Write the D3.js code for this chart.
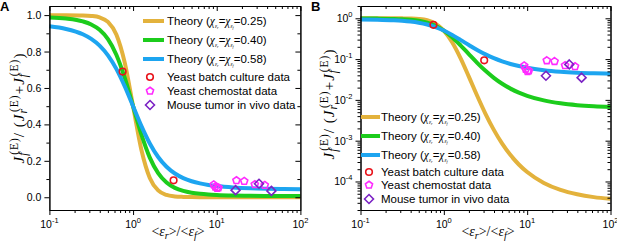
<!DOCTYPE html>
<html>
<head>
<meta charset="utf-8">
<script src="https://cdn.jsdelivr.net/npm/d3@7"></script>
<style>
  body { margin: 0; background: #fff; }
  text { font-family: "Liberation Sans", Arial, sans-serif; fill: #000; }
  .serif { font-family: "Liberation Serif", "Times New Roman", serif; }
  .axis path, .axis line { stroke: #000; stroke-width: 1; }
</style>
</head>
<body>
<div id="wrapper"></div>
<script>
// ratio <eps_r>/<eps_f> where the theory curves were read
const ratio = [0.1, 0.158, 0.251, 0.316, 0.398, 0.501, 0.631, 0.794, 1, 1.259, 1.585, 1.995,
  2.512, 3.162, 3.981, 5.012, 6.31, 7.943, 10, 15.85, 25.12, 39.81, 63.1, 100]
const theory025 = [0.99983, 0.99956, 0.99816, 0.99545, 0.98735, 0.96276, 0.89404, 0.74031, 0.5,
  0.25975, 0.10594, 0.03723, 0.01265, 0.00456, 0.00184, 0.000845, 0.000443, 0.000261, 0.00017,
  0.000092, 0.0000621, 0.0000485, 0.0000414, 0.0000375]
const theory040 = [0.98741, 0.98114, 0.96528, 0.94845, 0.91894, 0.86753, 0.78236, 0.65641, 0.5,
  0.34359, 0.21764, 0.13245, 0.08106, 0.05156, 0.03471, 0.02485, 0.01886, 0.01507, 0.01259,
  0.0097, 0.00823, 0.00742, 0.00695, 0.00666]
const theory058 = [0.9387, 0.92407, 0.89473, 0.86953, 0.83252, 0.77899, 0.70474, 0.60938, 0.5,
  0.39062, 0.29526, 0.22101, 0.16748, 0.13047, 0.10525, 0.08795, 0.07593, 0.06742, 0.0613,
  0.05347, 0.04905, 0.04645, 0.04489, 0.04393]

// measured points
const batchX = [0.75, 3.05]
const batchY = [0.69, 0.093]
const chemoX = [9.2, 9.6, 10.1, 10.5, 17.2, 21.3, 28.5, 37.5]
const chemoY = [0.069, 0.057, 0.05, 0.052, 0.092, 0.088, 0.07, 0.066]
const tumorX = [16.8, 32, 45]
const tumorY = [0.039, 0.074, 0.035]

const chiLabels = ['0.25', '0.40', '0.58']
const curveColors = ['#e3b23c', '#1ccc1c', '#1da5f0']

const width = 617
const height = 241

const svg = d3.select('#wrapper').append('svg')
  .attr('width', width)
  .attr('height', height)

const theorySeries = [theory025, theory040, theory058].map(vals =>
  ratio.map((r, i) => ({ x: r, y: vals[i] })))

const zip = (xs, ys) => xs.map((x, i) => ({ x, y: ys[i] }))
const batch = zip(batchX, batchY)
const chemo = zip(chemoX, chemoY)
const tumor = zip(tumorX, tumorY)

const pentagon = d3.symbol().type({
  draw(ctx, size) {
    const r = Math.sqrt(size / 2.4)
    for (let i = 0; i < 5; i++) {
      const a = -Math.PI / 2 + i * 2 * Math.PI / 5
      const px = r * Math.cos(a), py = r * Math.sin(a)
      i ? ctx.lineTo(px, py) : ctx.moveTo(px, py)
    }
    ctx.closePath()
  }
}).size(34)

const diamond = d3.symbol().type({
  draw(ctx, size) {
    const r = Math.sqrt(size / 2)
    ctx.moveTo(0, -r); ctx.lineTo(r, 0); ctx.lineTo(0, r); ctx.lineTo(-r, 0); ctx.closePath()
  }
}).size(40)

function pow10Label(sel, exp) {
  sel.text('10')
  sel.append('tspan').attr('dy', -5).attr('font-size', 7.5).text(exp)
}

function drawChiLabel(t, chi) {
  const it = () => t.append('tspan').attr('class', 'serif').attr('font-style', 'italic')
  t.append('tspan').text('Theory (')
  it().text('χ')
  it().attr('font-size', 5.5).attr('dy', 2.5).text('ε')
  it().attr('font-size', 4).attr('dy', 1).text('r')
  t.append('tspan').attr('dy', -3.5).text('=')
  it().text('χ')
  it().attr('font-size', 5.5).attr('dy', 2.5).text('ε')
  it().attr('font-size', 4).attr('dy', 1).text('f')
  t.append('tspan').attr('dy', -3.5).text('=' + chi + ')')
}

// J with stacked subscript and (E) superscript; following text must carry dy 6
function jTerm(t, sub) {
  t.append('tspan').attr('font-style', 'italic').text('J')
  t.append('tspan').attr('font-style', 'italic').attr('font-size', 11.5).attr('dy', 3).text(sub)
  t.append('tspan').attr('font-size', 11.5).attr('dx', sub === 'f' ? -3.3 : -3.9).attr('dy', -9).text('(E)')
}

function drawPanel(p) {
  const x = d3.scaleLog().domain([0.1, 100]).range([p.left, p.right])
  const y = p.log
    ? d3.scaleLog().domain([2e-5, 2]).range([p.bottom, p.top])
    : d3.scaleLinear().domain([-0.07, 1.05]).range([p.bottom, p.top])

  const g = svg.append('g')

  // curves
  const line = d3.line()
    .x(d => x(d.x))
    .y(d => y(d.y))
    .curve(d3.curveMonotoneX)

  theorySeries.forEach((s, i) => {
    g.append('path')
      .datum(s)
      .attr('fill', 'none')
      .attr('stroke', curveColors[i])
      .attr('stroke-width', 4)
      .attr('d', line)
  })

  // axes
  const xMajor = [0.1, 1, 10, 100]
  const xMinor = []
  for (let dec = 0.1; dec < 100; dec *= 10)
    for (let k = 2; k < 10; k++) xMinor.push(dec * k)

  let yMajor, yMinor
  if (p.log) {
    yMajor = [1e-4, 1e-3, 1e-2, 1e-1, 1]
    yMinor = []
    for (let dec = 1e-5; dec < 2; dec *= 10)
      for (let k = 2; k < 10; k++) if (dec * k >= 2e-5 && dec * k <= 2) yMinor.push(dec * k)
  } else {
    yMajor = [0, 0.2, 0.4, 0.6, 0.8, 1.0]
    yMinor = [0.1, 0.3, 0.5, 0.7, 0.9]
  }

  const axisG = (tr, gen) => g.append('g').attr('class', 'axis').attr('transform', tr).call(gen)

  axisG(`translate(0,${p.bottom})`, d3.axisBottom(x).tickValues(xMajor).tickSize(5).tickSizeOuter(0).tickFormat(''))
  axisG(`translate(0,${p.bottom})`, d3.axisBottom(x).tickValues(xMinor).tickSize(3).tickSizeOuter(0).tickFormat(''))
  axisG(`translate(0,${p.top})`, d3.axisBottom(x).tickValues(xMajor).tickSize(5).tickSizeOuter(0).tickFormat(''))
  axisG(`translate(0,${p.top})`, d3.axisBottom(x).tickValues(xMinor).tickSize(3).tickSizeOuter(0).tickFormat(''))
  axisG(`translate(${p.left},0)`, d3.axisLeft(y).tickValues(yMajor).tickSize(5).tickSizeOuter(0).tickFormat(''))
  axisG(`translate(${p.left},0)`, d3.axisLeft(y).tickValues(yMinor).tickSize(3).tickSizeOuter(0).tickFormat(''))
  axisG(`translate(${p.right},0)`, d3.axisLeft(y).tickValues(yMajor).tickSize(5).tickSizeOuter(0).tickFormat(''))
  axisG(`translate(${p.right},0)`, d3.axisLeft(y).tickValues(yMinor).tickSize(3).tickSizeOuter(0).tickFormat(''))

  // tick labels
  xMajor.forEach(v => {
    g.append('text')
      .attr('x', x(v)).attr('y', p.bottom + 18)
      .attr('text-anchor', 'middle').attr('font-size', 10.5)
      .call(pow10Label, String(Math.round(Math.log10(v))))
  })
  yMajor.forEach(v => {
    const t = g.append('text')
      .attr('x', p.left - 8).attr('y', y(v) + 4)
      .attr('text-anchor', 'end').attr('font-size', 10.5)
    if (p.log) t.call(pow10Label, String(Math.round(Math.log10(v))))
    else t.text(d3.format('.1f')(v))
  })

  // axis titles
  const xt = g.append('text').attr('class', 'serif')
    .attr('x', p.xTitleX).attr('y', 236).attr('text-anchor', 'middle').attr('font-size', 14)
  xt.append('tspan').text('<')
  xt.append('tspan').attr('font-style', 'italic').text('ε')
  xt.append('tspan').attr('font-style', 'italic').attr('font-size', 10).attr('dy', 3).text('r')
  xt.append('tspan').attr('dy', -3).text('>/<')
  xt.append('tspan').attr('font-style', 'italic').text('ε')
  xt.append('tspan').attr('font-style', 'italic').attr('font-size', 10).attr('dy', 3).text('f')
  xt.append('tspan').attr('dy', -3).text('>')

  const yt = g.append('text').attr('class', 'serif')
    .attr('transform', `translate(${p.yTitleX},${p.yTitleY}) rotate(-90)`)
    .attr('text-anchor', 'middle').attr('font-size', 15).attr('letter-spacing', 1)
  jTerm(yt, 'f')
  yt.append('tspan').attr('dy', 6).text('/ (')
  jTerm(yt, 'r')
  yt.append('tspan').attr('dy', 6).text('+')
  jTerm(yt, 'f')
  yt.append('tspan').attr('dy', 6).text(')')

  // panel letter
  svg.append('text').attr('x', p.letterX).attr('y', 11)
    .attr('font-size', 13).attr('font-weight', 'bold').text(p.letter)

  // data points
  g.selectAll('.batch').data(batch).join('circle')
    .attr('cx', d => x(d.x)).attr('cy', d => y(d.y)).attr('r', 3.3)
    .attr('fill', 'none').attr('stroke', '#e8131b').attr('stroke-width', 1.6)
  g.selectAll('.chemo').data(chemo).join('path')
    .attr('transform', d => `translate(${x(d.x)},${y(d.y)})`)
    .attr('d', pentagon)
    .attr('fill', 'none').attr('stroke', '#ff2bff').attr('stroke-width', 1.6)
  g.selectAll('.tumor').data(tumor).join('path')
    .attr('transform', d => `translate(${x(d.x)},${y(d.y)})`)
    .attr('d', diamond)
    .attr('fill', 'none').attr('stroke', '#7b22c4').attr('stroke-width', 1.6)

  // legend
  const L = p.legend
  chiLabels.forEach((chi, i) => {
    const ly = L.lineRows[i]
    g.append('line')
      .attr('x1', L.lineX0).attr('x2', L.lineX1).attr('y1', ly).attr('y2', ly)
      .attr('stroke', curveColors[i]).attr('stroke-width', 4)
    const t = g.append('text').attr('x', L.textX).attr('y', ly + 4).attr('font-size', 11.5)
    drawChiLabel(t, chi)
  })
  const markerRows = [
    { label: 'Yeast batch culture data', kind: 'batch' },
    { label: 'Yeast chemostat data', kind: 'chemo' },
    { label: 'Mouse tumor in vivo data', kind: 'tumor' },
  ]
  markerRows.forEach((m, i) => {
    const my = L.markRows[i]
    if (m.kind === 'batch') {
      g.append('circle').attr('cx', L.markX).attr('cy', my).attr('r', 3.3)
        .attr('fill', 'none').attr('stroke', '#e8131b').attr('stroke-width', 1.6)
    } else {
      g.append('path').attr('transform', `translate(${L.markX},${my})`)
        .attr('d', m.kind === 'chemo' ? pentagon : diamond)
        .attr('fill', 'none')
        .attr('stroke', m.kind === 'chemo' ? '#ff2bff' : '#7b22c4')
        .attr('stroke-width', 1.6)
    }
    g.append('text').attr('x', L.textX).attr('y', my + 4).attr('font-size', 11.5).text(m.label)
  })
}

drawPanel({
  letter: 'A', letterX: 0, log: false,
  left: 49.4, right: 300.4, top: 6, bottom: 210,
  xTitleX: 178, yTitleX: 24, yTitleY: 108,
  legend: { lineX0: 143, lineX1: 164, textX: 167, lineRows: [21, 40, 59], markX: 150, markRows: [77, 91, 105] },
})

drawPanel({
  letter: 'B', letterX: 311, log: true,
  left: 360.5, right: 610.5, top: 6, bottom: 210,
  xTitleX: 488, yTitleX: 334, yTitleY: 104,
  legend: { lineX0: 361, lineX1: 380, textX: 381, lineRows: [117, 136, 155], markX: 369, markRows: [172, 185, 199] },
})
</script>
</body>
</html>
